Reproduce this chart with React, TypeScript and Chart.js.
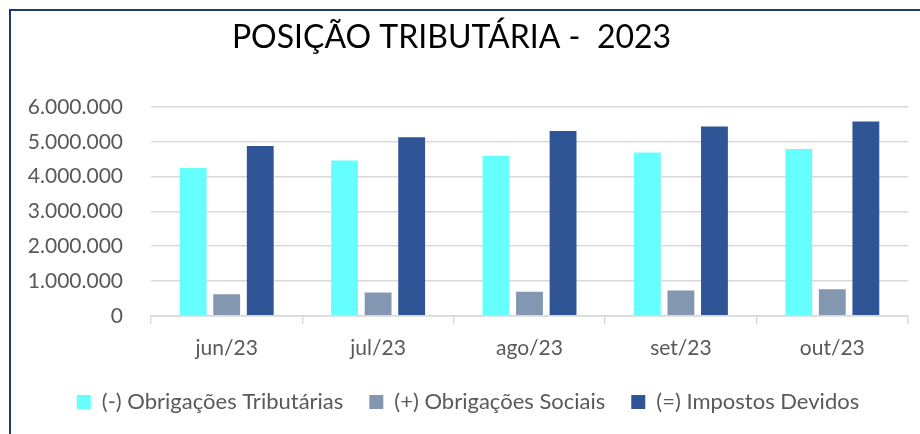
import React, { useEffect, useRef } from 'react';
import { Chart, registerables } from 'chart.js';

Chart.register(...registerables);

const titleText = 'POSIÇÃO TRIBUTÁRIA -  2023';
const categories = ['jun/23', 'jul/23', 'ago/23', 'set/23', 'out/23'];
const seriesNames = ['(-) Obrigações Tributárias', '(+) Obrigações Sociais', '(=) Impostos Devidos'];
const obrigacoesTributarias = [4250000, 4460000, 4600000, 4690000, 4790000];
const obrigacoesSociais = [620000, 670000, 690000, 730000, 760000];
const impostosDevidos = [4880000, 5130000, 5310000, 5440000, 5580000];
const yMin = 0;
const yMax = 6000000;
const yStep = 1000000;

const colors = ['#66FFFF', '#8497B0', '#2F5597'];
const FONT = 'Lato, "Open Sans", sans-serif';
const TEXT_GRAY = '#595959';
const GRID = '#D9D9D9';

function fmt(v: number): string {
  return String(Math.round(v)).replace(/\B(?=(\d{3})+(?!\d))/g, '.');
}

const titlePlugin = {
  id: 'offsetTitle',
  afterDraw(chart: any) {
    const ctx = chart.ctx;
    ctx.save();
    ctx.font = `normal 32px ${FONT}`;
    ctx.fillStyle = '#000000';
    ctx.textAlign = 'center';
    ctx.textBaseline = 'middle';
    ctx.fillText(titleText, chart.width / 2 - 14, 27);
    ctx.restore();
  },
};

export default function App() {
  const ref = useRef<HTMLCanvasElement | null>(null);

  useEffect(() => {
    if (!ref.current) return;
    const chart = new Chart(ref.current, {
      type: 'bar',
      data: {
        labels: categories,
        datasets: [obrigacoesTributarias, obrigacoesSociais, impostosDevidos].map((d, i) => ({
          label: seriesNames[i],
          data: d,
          backgroundColor: colors[i],
          borderWidth: 0,
          categoryPercentage: 0.665,
          barPercentage: 0.8,
        })),
      },
      options: {
        animation: false,
        responsive: true,
        maintainAspectRatio: false,
        layout: { padding: { left: 17, right: 12, top: 96, bottom: 11 } },
        plugins: {
          title: { display: false },
          legend: {
            position: 'bottom',
            labels: {
              boxWidth: 14,
              boxHeight: 14,
              padding: 26,
              color: TEXT_GRAY,
              font: { family: FONT, size: 22 },
            },
          },
          tooltip: { enabled: false },
        },
        scales: {
          x: {
            grid: {
              display: true,
              drawOnChartArea: false,
              offset: true,
              tickLength: 8,
              color: GRID,
              lineWidth: 1.5,
            },
            border: { display: true, color: GRID, width: 1.5 },
            ticks: { color: TEXT_GRAY, font: { family: FONT, size: 21 }, padding: 12 },
            afterFit: (scale: any) => {
              scale.height = scale.height - 8;
            },
          },
          y: {
            min: yMin,
            max: yMax,
            grid: { color: GRID, lineWidth: 1.5, drawTicks: false },
            border: { display: false },
            ticks: {
              stepSize: yStep,
              padding: 28,
              color: TEXT_GRAY,
              font: { family: FONT, size: 21 },
              callback: (v: any) => fmt(Number(v)),
            },
            afterFit: (scale: any) => {
              scale.width = 123;
            },
          },
        },
      },
      plugins: [titlePlugin],
    });
    return () => chart.destroy();
  }, []);

  return (
    <div
      style={{
        position: 'absolute',
        left: 9,
        top: 9,
        width: 911,
        height: 425,
        borderTop: '2px solid #1F3B73',
        borderLeft: '2px solid #1F3B73',
        background: '#ffffff',
        boxSizing: 'border-box',
      }}
    >
      <div style={{ position: 'relative', width: 909, height: 423 }}>
        <canvas ref={ref} />
      </div>
    </div>
  );
}
